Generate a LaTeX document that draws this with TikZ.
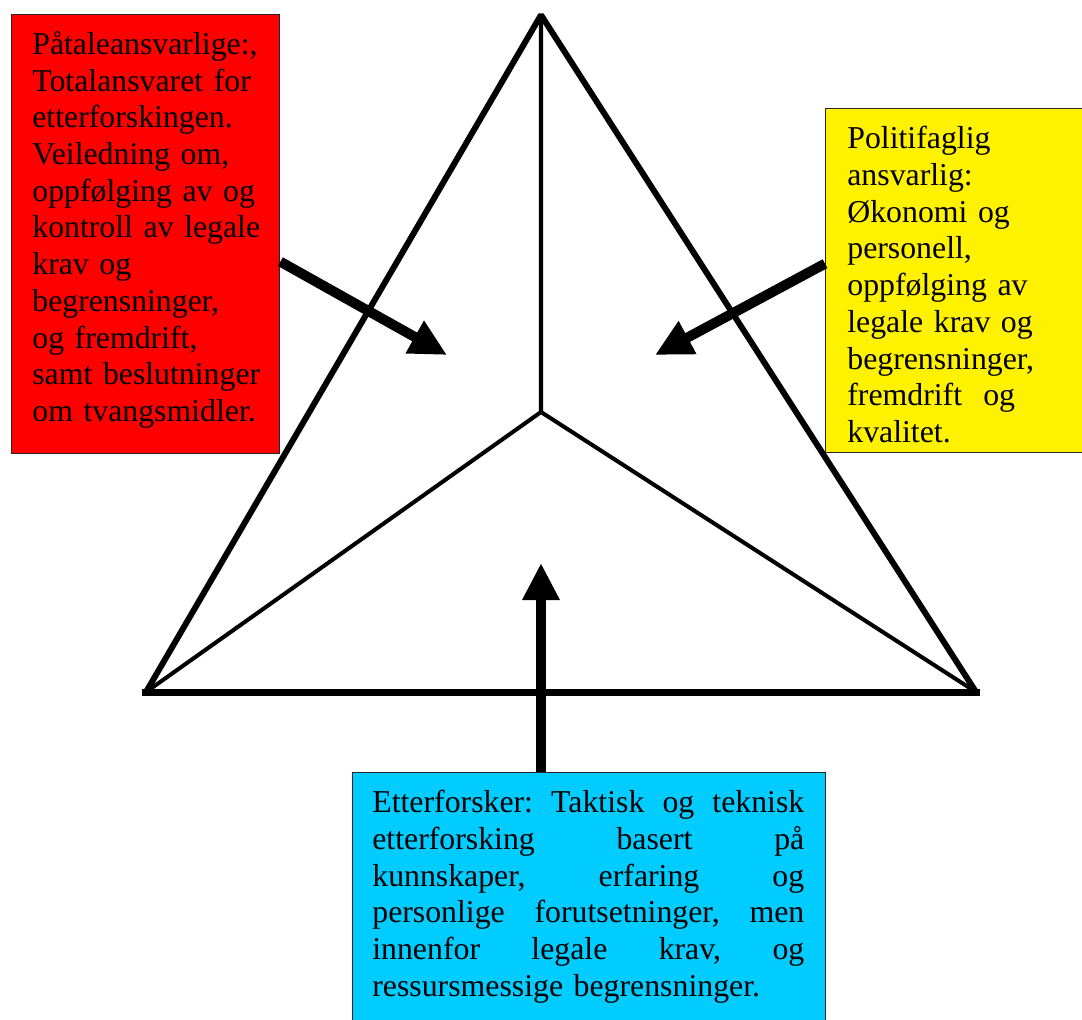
\documentclass[tikz,border=0pt]{standalone}
\usepackage{fontspec}
\setmainfont{Liberation Serif}
\usepackage{xcolor}
\usetikzlibrary{arrows.meta, calc, positioning}

\definecolor{etterblaa}{RGB}{0,204,255}

\tikzset{
    boks/.style={draw=black!85, line width=0.8pt, anchor=north west, inner sep=0pt},
    tekst/.style={anchor=north west, inner sep=0pt, align=left, font=\fontsize{18.1pt}{20.9pt}\selectfont},
    pil/.style={-{Triangle[length=0.74cm, width=0.7cm]}, line width=5.7pt},
}

\begin{document}
\begin{tikzpicture}[x=0.02cm, y=-0.02cm]
    \useasboundingbox (0, 0) rectangle (1082, 1019);

    \coordinate (topp) at (541, 15);
    \coordinate (vl) at (146, 692);
    \coordinate (vh) at (976, 692);
    \coordinate (midt) at (541, 412);

    \coordinate (spissV) at (447, 355);
    \coordinate (spissH) at (655, 355);
    \coordinate (spissN) at (541, 563);

    \draw[line width=3.4pt, line join=bevel] (vl) -- (topp) -- (vh);
    \draw[line width=4pt, line cap=rect] (vl) -- (vh);
    \draw[line width=2.3pt]
        (topp) -- (midt)
        (midt) -- (vl)
        (midt) -- (vh);

    \node[boks, fill=red, minimum width=5.36cm, minimum height=8.78cm] (pataleboks) at (11, 14) {};
    \node[boks, fill=yellow, minimum width=5.4cm, minimum height=6.88cm] (politiboks) at (825, 108) {};
    \node[boks, fill=etterblaa, minimum width=9.46cm, minimum height=5.3cm] (etterboks) at (352, 772) {};

    \node[tekst, text width=4.7cm] (pataletekst) at (32, 31) {%
        P\r{a}taleansvarlige:,\\
        Totalansvaret for\\
        etterforskingen.\\
        Veiledning om,\\
        oppf\o{}lging av og\\
        kontroll av legale\\
        krav og\\
        begrensninger,\\
        og fremdrift,\\
        samt beslutninger\\
        om tvangsmidler.};

    \node[tekst, text width=4.4cm] (politekst) at (847, 126) {%
        Politifaglig\\
        ansvarlig:\\
        \O{}konomi og\\
        personell,\\
        oppf\o{}lging av\\
        legale krav og\\
        begrensninger,\\
        fremdrift\ \ og\\
        kvalitet.};

    \node[tekst, text width=8.64cm] (ettertekst) at (372, 790) {%
        Etterforsker:\hfill Taktisk\hfill og\hfill teknisk\\
        etterforsking\hfill basert\hfill p\r{a}\\
        kunnskaper,\hfill erfaring\hfill og\\
        personlige\hfill forutsetninger,\hfill men\\
        innenfor\hfill legale\hfill krav,\hfill og\\
        ressursmessige begrensninger.};

    \draw[pil] ([yshift=-0.55cm]pataleboks.east) -- (spissV);
    \draw[pil] ([yshift=0.34cm]politiboks.west) -- (spissH);
    \draw[pil] (etterboks.north -| midt) -- (spissN);
\end{tikzpicture}
\end{document}
